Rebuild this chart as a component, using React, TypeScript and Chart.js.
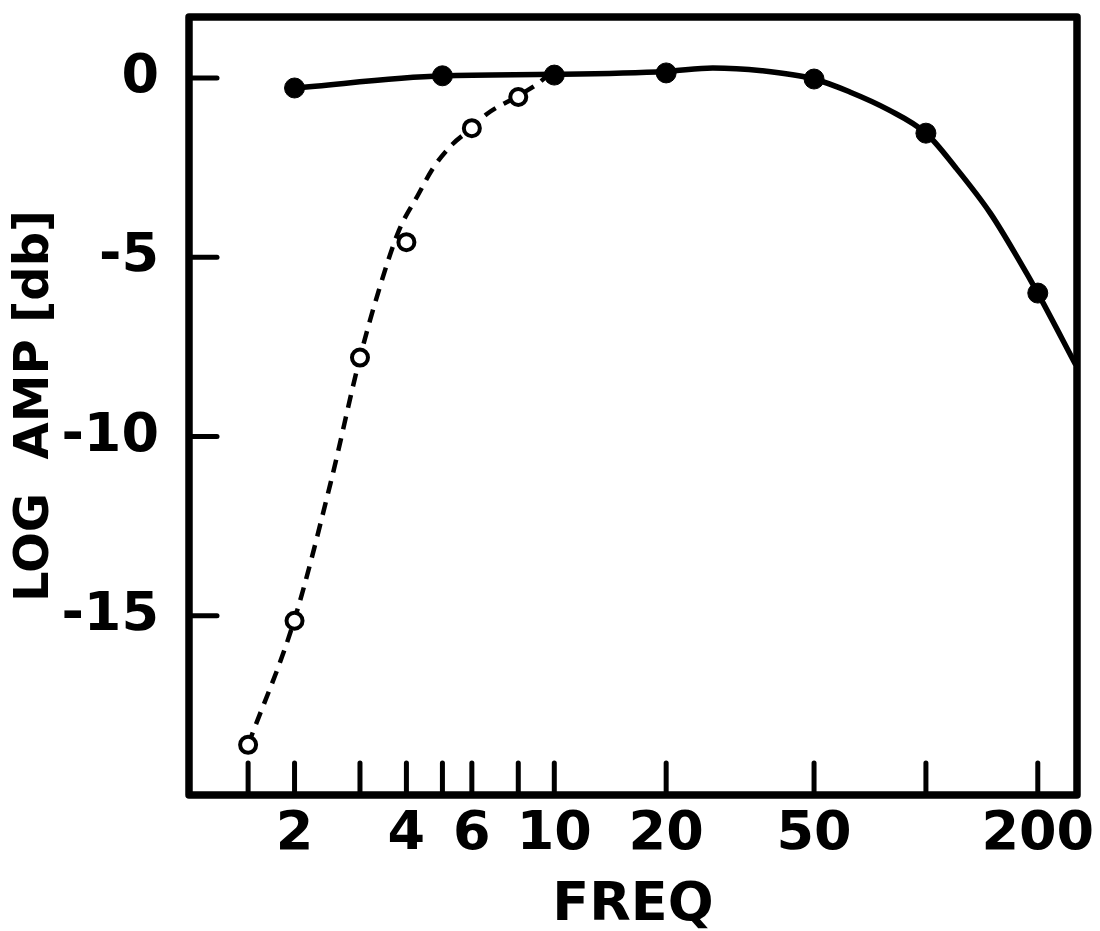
import React, { useEffect, useRef } from "react";
import { Chart, registerables } from "chart.js";

Chart.register(...registerables);

// ---- data ----
const xTickValues = [1.5, 2, 3, 4, 5, 6, 8, 10, 20, 50, 100, 200];
const xTickLabels = [2, 4, 6, 10, 20, 50, 200];
const yTickValues = [0, -5, -10, -15];

const filledFreq = [2, 5, 10, 20, 50, 100, 200];
const filledAmp = [-0.28, 0.06, 0.08, 0.14, -0.03, -1.54, -6.0];

const openFreq = [1.5, 2, 3, 4, 6, 8];
const openAmp = [-18.6, -15.14, -7.8, -4.58, -1.4, -0.53];

const solidCurveFreq = [2, 5, 10, 20, 26.7, 36.2, 50, 62.4, 79.4, 100, 120, 149, 178, 200, 253];
const solidCurveAmp = [-0.28, 0.06, 0.1, 0.18, 0.28, 0.2, -0.03, -0.39, -0.89, -1.54, -2.49, -3.77, -5.08, -6.0, -8.0];

const dashedCurveFreq = [1.5, 2, 2.5, 3, 3.4, 3.82, 4.28, 4.73, 5.32, 6, 6.6, 8, 9.08, 9.65];
const dashedCurveAmp = [-18.6, -15.1, -11.3, -7.8, -5.8, -4.25, -3.3, -2.5, -1.85, -1.4, -1.0, -0.5, -0.14, 0.1];

const pts = (xs: number[], ys: number[]) => xs.map((x, i) => ({ x, y: ys[i] }));

const FONT = "'DejaVu Sans', 'Liberation Sans', sans-serif";

const framePlugin = {
  id: "frameTicks",
  afterDatasetsDraw(chart: any) {
    const { ctx, chartArea } = chart;
    const { left, top, right, bottom } = chartArea;
    const xs = chart.scales.x;
    const ys = chart.scales.y;
    ctx.save();
    ctx.strokeStyle = "#000";
    ctx.lineCap = "round";
    ctx.lineWidth = 5;
    xs.ticks.forEach((t: any) => {
      const px = xs.getPixelForValue(t.value);
      ctx.beginPath();
      ctx.moveTo(px, bottom);
      ctx.lineTo(px, bottom - 32);
      ctx.stroke();
    });
    ys.ticks.forEach((t: any) => {
      const py = ys.getPixelForValue(t.value);
      ctx.beginPath();
      ctx.moveTo(left, py);
      ctx.lineTo(left + 28, py);
      ctx.stroke();
    });
    ctx.lineWidth = 7.5;
    ctx.lineJoin = "round";
    ctx.strokeRect(left, top, right - left, bottom - top);
    ctx.restore();
  },
};

export default function App() {
  const ref = useRef<HTMLCanvasElement | null>(null);

  useEffect(() => {
    if (!ref.current) return;
    const chart = new Chart(ref.current, {
      type: "line",
      data: {
        datasets: [
          {
            label: "filled",
            data: pts(filledFreq, filledAmp),
            showLine: false,
            pointRadius: 10,
            pointBackgroundColor: "#000",
            pointBorderColor: "#000",
            pointBorderWidth: 1,
            order: 1,
          },
          {
            label: "open",
            data: pts(openFreq, openAmp),
            showLine: false,
            pointRadius: 8,
            pointBackgroundColor: "#fff",
            pointBorderColor: "#000",
            pointBorderWidth: 4,
            order: 1,
          },
          {
            label: "solid curve",
            data: pts(solidCurveFreq, solidCurveAmp),
            borderColor: "#000",
            borderWidth: 5.5,
            pointRadius: 0,
            cubicInterpolationMode: "monotone",
            fill: false,
            order: 2,
          },
          {
            label: "dashed curve",
            data: pts(dashedCurveFreq, dashedCurveAmp),
            borderColor: "#000",
            borderWidth: 4.5,
            borderDash: [13, 9],
            pointRadius: 0,
            cubicInterpolationMode: "monotone",
            fill: false,
            order: 2,
          },
        ],
      },
      options: {
        animation: false,
        responsive: false,
        devicePixelRatio: 1,
        layout: { padding: { left: 0, top: 17, right: 23, bottom: 0 } },
        plugins: { legend: { display: false }, tooltip: { enabled: false } },
        scales: {
          x: {
            type: "logarithmic",
            min: 1.04,
            max: 255,
            grid: { display: false },
            border: { display: false },
            afterBuildTicks: (scale: any) => {
              scale.ticks = xTickValues.map((v) => ({ value: v }));
            },
            afterFit: (scale: any) => {
              scale.height = 136;
              scale.paddingLeft = 0;
              scale.paddingRight = 0;
              scale.paddingTop = 0;
              scale.paddingBottom = 0;
            },
            ticks: {
              autoSkip: false,
              maxRotation: 0,
              padding: 0,
              color: "#000",
              font: { family: FONT, size: 54, weight: "bold" },
              callback: (v: any) => (xTickLabels.includes(Number(v)) ? String(v) : ""),
            },
            title: {
              display: true,
              text: "FREQ",
              color: "#000",
              padding: { top: 0, bottom: 0 },
              font: { family: FONT, size: 54, weight: "bold", lineHeight: 0.92 },
            },
          },
          y: {
            type: "linear",
            min: -20,
            max: 1.7,
            grid: { display: false },
            border: { display: false },
            afterBuildTicks: (scale: any) => {
              scale.ticks = yTickValues.map((v) => ({ value: v }));
            },
            afterFit: (scale: any) => {
              scale.width = 189;
              scale.paddingLeft = 0;
              scale.paddingRight = 0;
              scale.paddingTop = 0;
              scale.paddingBottom = 0;
            },
            ticks: {
              autoSkip: false,
              padding: 22,
              color: "#000",
              font: { family: FONT, size: 54, weight: "bold" },
              callback: (v: any) => String(v),
            },
            title: {
              display: true,
              text: "LOG  AMP [db]",
              color: "#000",
              padding: { top: 12, bottom: 0 },
              font: { family: FONT, size: 48, weight: "bold", lineHeight: 1 },
            },
          },
        },
      },
      plugins: [framePlugin],
    } as any);
    return () => chart.destroy();
  }, []);

  return (
    <div style={{ position: "absolute", left: 0, top: 0, width: 1100, height: 931, background: "#fff" }}>
      <canvas ref={ref} width={1100} height={931} style={{ display: "block" }} />
    </div>
  );
}
